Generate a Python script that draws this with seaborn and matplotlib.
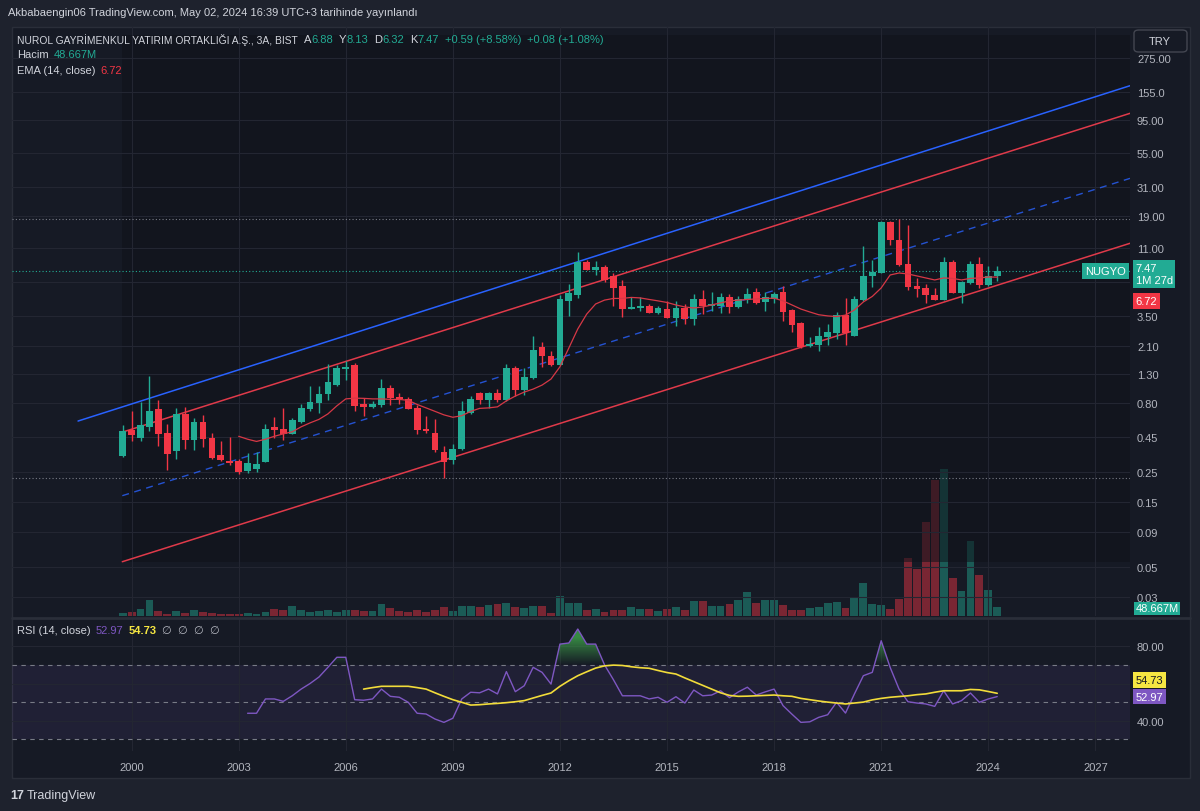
import numpy as np
import pandas as pd
import matplotlib
matplotlib.use("Agg")
import matplotlib.pyplot as plt
import seaborn as sns
from matplotlib.patches import Rectangle, FancyBboxPatch, PathPatch
from matplotlib.lines import Line2D
from matplotlib.path import Path

# ---- data: NUGYO quarterly (3A) candles, 1999 Q4 .. 2024 Q2 ----
quarters = pd.period_range("1999Q4", "2024Q2", freq="Q")

opens = [0.33, 0.51, 0.45, 0.54, 0.72, 0.48, 0.36, 0.66, 0.43, 0.58,
         0.44, 0.33, 0.30, 0.30, 0.255, 0.265, 0.30, 0.53, 0.52, 0.48,
         0.59, 0.725, 0.81, 0.94, 1.10, 1.44, 1.51, 0.79, 0.76, 0.78,
         1.03, 0.88, 0.86, 0.735, 0.515, 0.48, 0.35, 0.31, 0.37, 0.685,
         0.94, 0.85, 0.94, 0.85, 1.45, 1.00, 1.24, 2.06, 1.78, 1.53,
         4.56, 5.06, 8.63, 7.72, 7.94, 6.89, 5.82, 3.97, 4.03, 4.11,
         3.73, 3.92, 3.43, 3.97, 3.35, 4.65, 4.20, 4.20, 4.78, 4.11,
         4.60, 5.20, 4.44, 4.71, 5.20, 3.84, 3.10, 2.12, 2.14, 2.48,
         2.64, 3.54, 2.53, 4.65, 6.89, 7.27, 17.1, 12.65, 8.39, 5.76,
         5.57, 4.98, 4.65, 8.72, 5.20, 6.19, 8.39, 5.99, 6.88]
highs = [0.55, 0.70, 0.82, 1.26, 0.84, 0.56, 0.73, 0.75, 0.62, 0.65,
         0.48, 0.42, 0.45, 0.31, 0.345, 0.35, 0.56, 0.63, 0.73, 0.62,
         0.79, 1.07, 1.06, 1.55, 1.51, 1.64, 1.58, 0.87, 0.83, 1.21,
         1.08, 0.95, 0.89, 0.77, 0.64, 0.61, 0.39, 0.40, 0.83, 0.895,
         0.97, 0.97, 1.01, 1.55, 1.50, 1.45, 2.48, 2.26, 1.92, 4.98,
         5.99, 10.2, 9.03, 8.87, 8.25, 7.21, 6.41, 4.78, 4.78, 4.27,
         4.15, 4.52, 4.52, 4.27, 5.06, 5.44, 5.25, 5.15, 5.06, 4.92,
         5.57, 5.57, 5.20, 5.25, 5.82, 3.94, 3.15, 2.45, 2.88, 3.04,
         3.73, 4.71, 4.87, 11.3, 9.03, 17.4, 17.4, 17.9, 16.2, 6.60,
         5.99, 5.57, 9.40, 9.03, 6.33, 8.87, 9.40, 8.18, 8.13]
lows = [0.32, 0.42, 0.42, 0.50, 0.39, 0.26, 0.31, 0.37, 0.36, 0.38,
        0.31, 0.30, 0.28, 0.24, 0.247, 0.25, 0.295, 0.44, 0.43, 0.47,
        0.57, 0.70, 0.68, 0.84, 1.07, 1.19, 0.70, 0.64, 0.73, 0.75,
        0.77, 0.79, 0.725, 0.475, 0.48, 0.35, 0.226, 0.285, 0.36, 0.665,
        0.79, 0.73, 0.81, 0.83, 0.90, 0.915, 1.20, 1.47, 1.50, 1.51,
        3.46, 4.71, 7.63, 6.97, 6.19, 4.15, 3.43, 3.92, 3.81, 3.67,
        3.58, 3.35, 2.96, 3.04, 2.99, 3.60, 3.81, 3.67, 3.67, 3.97,
        4.35, 4.27, 3.81, 4.35, 3.22, 2.66, 2.02, 2.06, 1.94, 2.12,
        2.37, 2.12, 2.50, 4.52, 5.66, 7.21, 11.6, 8.07, 5.44, 4.81,
        4.35, 4.60, 4.60, 5.15, 4.35, 5.99, 5.57, 5.76, 6.32]
closes = [0.50, 0.47, 0.55, 0.70, 0.48, 0.34, 0.67, 0.43, 0.58, 0.44,
          0.32, 0.31, 0.295, 0.25, 0.29, 0.285, 0.52, 0.51, 0.48, 0.60,
          0.73, 0.82, 0.93, 1.14, 1.45, 1.47, 0.77, 0.76, 0.79, 1.03,
          0.88, 0.86, 0.735, 0.51, 0.50, 0.365, 0.30, 0.37, 0.70, 0.86,
          0.85, 0.94, 0.845, 1.45, 1.00, 1.24, 1.97, 1.79, 1.53, 4.65,
          5.13, 8.63, 7.72, 7.99, 6.52, 5.66, 3.96, 4.07, 4.15, 3.73,
          3.97, 3.43, 3.97, 3.35, 4.65, 4.15, 4.27, 4.78, 4.11, 4.65,
          5.06, 4.42, 4.78, 5.06, 3.75, 3.04, 2.08, 2.18, 2.48, 2.68,
          3.54, 2.62, 4.65, 6.89, 7.34, 17.1, 12.65, 8.39, 5.76, 5.51,
          4.98, 4.65, 8.72, 5.20, 6.19, 8.39, 5.99, 6.89, 7.47]
# volume, millions of shares
volumes = [18, 22, 36, 87, 25, 11, 25, 16, 31, 20,
           16, 13, 11, 11, 14, 9, 20, 36, 32, 52,
           31, 20, 27, 31, 22, 31, 31, 27, 27, 63,
           41, 27, 23, 31, 20, 31, 47, 25, 52, 52,
           49, 58, 65, 68, 47, 41, 52, 52, 16, 106,
           72, 68, 31, 36, 20, 31, 31, 47, 36, 36,
           25, 36, 47, 31, 81, 83, 56, 52, 63, 87,
           128, 68, 85, 87, 58, 31, 31, 41, 47, 72,
           76, 41, 97, 178, 67, 58, 36, 94, 313, 252,
           508, 736, 796, 205, 133, 403, 220, 139, 48.667]
# EMA(14, close), from the 14th candle on
ema14 = [0.456, 0.434, 0.418, 0.434, 0.456, 0.475, 0.492, 0.535, 0.572, 0.607,
         0.666, 0.763, 0.858, 0.869, 0.866, 0.858, 0.858, 0.851, 0.851, 0.837,
         0.781, 0.737, 0.695, 0.655, 0.629, 0.646, 0.695, 0.731, 0.737, 0.750,
         0.830, 0.900, 0.963, 1.013, 1.084, 1.20, 1.477, 2.03, 2.80, 3.60,
         4.27, 4.56, 4.69, 4.69, 4.77, 4.73, 4.61, 4.50, 4.38, 4.20,
         4.06, 3.99, 4.06, 4.20, 4.35, 4.50, 4.56, 4.61, 4.65, 4.69,
         4.71, 4.50, 4.20, 3.92, 3.73, 3.56, 3.49, 3.45, 3.54, 3.86,
         4.42, 4.85, 5.60, 6.97, 7.21, 7.09, 6.86, 6.63, 6.41, 6.63,
         6.58, 6.41, 6.58, 6.63, 6.74, 6.72]
# RSI(14, close), from the 15th candle on
rsi14 = [44.0, 44.0, 51.7, 51.7, 50.4, 53.4, 57.0, 60.0, 63.5, 68.7,
         74.1, 74.1, 51.3, 51.0, 51.7, 57.0, 53.1, 52.6, 49.9, 44.0,
         43.6, 40.9, 39.1, 41.3, 51.7, 55.3, 55.0, 57.0, 54.4, 66.4,
         55.6, 58.8, 68.7, 66.0, 59.7, 81.2, 81.8, 89.3, 81.2, 81.2,
         70.0, 62.0, 53.4, 53.4, 53.4, 51.7, 52.6, 49.9, 52.9, 49.5,
         56.5, 53.4, 53.8, 56.1, 52.4, 55.5, 58.0, 53.8, 55.5, 57.0,
         48.1, 43.5, 39.1, 39.4, 41.8, 43.2, 49.9, 44.1, 54.4, 64.2,
         66.0, 83.0, 68.7, 57.0, 50.2, 49.5, 49.0, 47.7, 56.1, 49.0,
         50.8, 54.9, 49.9, 51.7, 52.97]
# RSI-based moving average (yellow), from the 28th candle on
rsi_ma = [57.0, 57.8, 58.5, 58.5, 58.5, 58.5, 57.8, 57.0, 55.0, 53.1,
          51.3, 49.9, 48.4, 48.6, 49.0, 49.3, 49.7, 50.2, 50.8, 52.2,
          53.6, 54.9, 58.5, 61.5, 64.2, 66.3, 68.3, 69.5, 69.9, 69.7,
          69.0, 68.5, 68.2, 67.0, 65.9, 65.1, 63.0, 61.0, 59.0, 57.0,
          55.0, 53.6, 53.1, 53.2, 53.4, 53.6, 53.8, 53.4, 53.1, 52.0,
          51.3, 50.6, 50.0, 49.5, 49.0, 49.5, 50.0, 51.2, 52.0, 52.6,
          53.0, 53.4, 54.0, 54.4, 55.3, 56.1, 56.1, 56.1, 56.8, 56.6,
          55.7, 54.73]

# drawn channel (regression trend) and the upper blue trend line: two anchors each
channel_dates = [1999.74, 2027.97]
channel_lower = [0.0547, 11.91]
channel_mid = [0.167, 35.7]
channel_upper = [0.489, 107.2]
blue_dates = [1998.50, 2027.97]
blue_line = [0.590, 171.0]

year_ticks = [2000, 2003, 2006, 2009, 2012, 2015, 2018, 2021, 2024, 2027]
price_ticks = [0.03, 0.05, 0.09, 0.15, 0.25, 0.45, 0.8, 1.3, 2.1, 3.5, 6.2,
               11, 19, 31, 55, 95, 155, 275]
price_labels = ["0.03", "0.05", "0.09", "0.15", "0.25", "0.45", "0.80", "1.30",
                "2.10", "3.50", "", "11.00", "19.00", "31.00", "55.00", "95.00",
                "155.0", "275.00"]

# ---- styling ----
UP = "#22ab94"
DOWN = "#f23645"
BG = "#161a25"
FRAME = "#1e222d"
GRID = "#232632"
TXT = "#d1d4dc"
AXT = "#b2b5be"
W, H = 1200, 812

sns.set_theme(style="dark", rc={
    "figure.facecolor": FRAME,
    "axes.facecolor": BG,
    "axes.edgecolor": BG,
    "grid.color": GRID,
    "text.color": TXT,
    "xtick.color": AXT,
    "ytick.color": AXT,
})
plt.rcParams["font.family"] = ["Liberation Sans", "DejaVu Sans"]

df = pd.DataFrame({
    "date": quarters.year + (quarters.quarter - 1) / 4,
    "open": opens, "high": highs, "low": lows, "close": closes, "volume": volumes,
})
df["up"] = df["close"] >= df["open"]
df["color"] = np.where(df["up"], UP, DOWN)
df["ema"] = [np.nan] * (len(df) - len(ema14)) + ema14
df["rsi"] = [np.nan] * (len(df) - len(rsi14)) + rsi14
df["rsi_ma"] = [np.nan] * (len(df) - len(rsi_ma)) + rsi_ma

fig = plt.figure(figsize=(W / 100, H / 100), dpi=100)


def fx(x):
    return x / W


def fy(y):
    return 1 - y / H


# chart body
fig.patches.append(Rectangle((fx(12), fy(779)), fx(1190) - fx(12), fy(28) - fy(779),
                             transform=fig.transFigure, fc=BG, ec="#2a2e39",
                             lw=1, zorder=-10))

ax = fig.add_axes([fx(12), fy(617), fx(1130) - fx(12), fy(28) - fy(617)])
vax = ax.twinx()
rax = fig.add_axes([fx(12), fy(752), fx(1130) - fx(12), fy(620) - fy(752)], sharex=ax)
vax.set_zorder(0)
ax.set_zorder(1)
rax.set_zorder(1)
ax.patch.set_visible(False)
rax.patch.set_visible(False)
vax.patch.set_visible(False)

xlim = (1996.65, 2027.97)

# ---- volume ----
vax.bar(df["date"], df["volume"], width=0.22, color=df["color"], alpha=0.45,
        linewidth=0)
vax.set_ylim(0, max(volumes) * 589 / 147.4)
vax.set_yticks([])
for s in vax.spines.values():
    s.set_visible(False)

# ---- price pane ----
ax.set_yscale("log")
ax.set_xlim(*xlim)
ax.set_ylim(0.02185, 461.4)

# shaded background of the drawn channel
ax.add_patch(Rectangle((channel_dates[0], channel_lower[0]),
                       xlim[1] - channel_dates[0], 400,
                       fc="#0f121a", ec="none", alpha=0.55, zorder=0))

ax.plot(blue_dates, blue_line, color="#2962ff", lw=1.1, zorder=2)
ax.plot(channel_dates, channel_upper, color="#e03a4a", lw=1.1, zorder=2)
ax.plot(channel_dates, channel_lower, color="#e03a4a", lw=1.1, zorder=2)
ax.plot(channel_dates, channel_mid, color="#2962ff", lw=1.0, ls=(0, (5, 4)),
        alpha=0.8, zorder=2)

# high / low / last-price dotted lines
ax.axhline(df["high"].max(), color="#787b86", lw=0.8, ls=(0, (1, 2)), zorder=1)
ax.axhline(df["low"].min(), color="#787b86", lw=0.8, ls=(0, (1, 2)), zorder=1)
ax.axhline(closes[-1], color=UP, lw=0.8, ls=(0, (1, 2)), zorder=1)

# candles
ax.vlines(df["date"], df["low"], df["high"], colors=df["color"], lw=1, zorder=3)
body_lo = df[["open", "close"]].min(axis=1)
body_hi = df[["open", "close"]].max(axis=1)
ax.bar(df["date"], body_hi - body_lo, bottom=body_lo, width=0.19,
       color=df["color"], linewidth=0, zorder=4)
# dojis still get a visible body
ax.bar(df["date"], body_lo * 0.02, bottom=body_lo * 0.99, width=0.19,
       color=df["color"], linewidth=0, zorder=4)

sns.lineplot(data=df, x="date", y="ema", ax=ax, color="#d63846", lw=0.9, zorder=5)

ax.set_xticks(year_ticks)
ax.yaxis.tick_right()
ax.set_yticks(price_ticks)
ax.set_yticklabels(price_labels)
ax.yaxis.set_minor_locator(matplotlib.ticker.NullLocator())
ax.tick_params(axis="y", length=0, pad=5, labelsize=8, labelcolor=AXT)
ax.tick_params(axis="x", length=0, labelbottom=False)
ax.grid(True, color=GRID, lw=0.8)
ax.set_xlabel("")
ax.set_ylabel("")
for s in ax.spines.values():
    s.set_visible(False)

# price scale markers
tr = ax.get_yaxis_transform()
ax.annotate("7.47\n1M 27d", xy=(1, closes[-1]), xycoords=tr, xytext=(4, 5.5),
            textcoords="offset points", ha="left", va="top", fontsize=8,
            color="white", linespacing=1.25, annotation_clip=False, zorder=10,
            bbox=dict(boxstyle="square,pad=0.25", fc=UP, ec="none"))
ax.annotate("NUGYO", xy=(1, closes[-1]), xycoords=tr, xytext=(-3, 0),
            textcoords="offset points", ha="right", va="center", fontsize=8,
            color="white", annotation_clip=False, zorder=10,
            bbox=dict(boxstyle="square,pad=0.25", fc=UP, ec="none"))
ax.annotate(f"{ema14[-1]:.2f}", xy=(1, ema14[-1]), xycoords=tr, xytext=(4, -17),
            textcoords="offset points", ha="left", va="center", fontsize=8,
            color="white", annotation_clip=False, zorder=10,
            bbox=dict(boxstyle="square,pad=0.25", fc=DOWN, ec="none"))
vax.annotate("48.667M", xy=(1, volumes[-1]), xycoords=vax.get_yaxis_transform(),
             xytext=(4, -1), textcoords="offset points", ha="left", va="center",
             fontsize=8, color="white", annotation_clip=False, zorder=10,
             bbox=dict(boxstyle="square,pad=0.15", fc=UP, ec="none"))

# ---- RSI pane ----
rax.set_xlim(*xlim)
rax.set_ylim(23.7, 94.7)
rax.fill_between(xlim, 30, 70, color="#7e57c2", alpha=0.1, lw=0, zorder=0)
for lvl in (70, 50, 30):
    rax.axhline(lvl, color="#787b86", lw=0.8, ls=(0, (4, 4)), zorder=1)

# overbought zone: green gradient fading towards the 70 line
rsi_arr = df["rsi"].to_numpy()
ob = rax.fill_between(df["date"], rsi_arr, 70, where=rsi_arr > 70, interpolate=True,
                      color="none", lw=0)
grad = np.zeros((100, 2, 4))
grad[..., 0], grad[..., 1], grad[..., 2] = 0.24, 0.62, 0.29
grad[..., 3] = np.clip(np.linspace(0, 1.25, 100), 0, 0.85)[:, None]
im = rax.imshow(grad, extent=[xlim[0], xlim[1], 70, 92], origin="lower",
                aspect="auto", zorder=2, interpolation="bilinear")
clip = PathPatch(Path.make_compound_path(*ob.get_paths()), transform=rax.transData,
                 fc="none", ec="none")
rax.add_patch(clip)
im.set_clip_path(clip)
rax.set_xlim(*xlim)
rax.set_ylim(23.7, 94.7)

sns.lineplot(data=df, x="date", y="rsi", ax=rax, color="#7e57c2", lw=1, zorder=3)
sns.lineplot(data=df, x="date", y="rsi_ma", ax=rax, color="#f2dc3a", lw=1.2, zorder=4)
rax.set_xticks(year_ticks)
rax.set_xticklabels([str(y) for y in year_ticks])
rax.yaxis.tick_right()
rax.set_yticks([40, 60, 80])
rax.set_yticklabels(["40.00", "", "80.00"])
rax.tick_params(axis="y", length=0, pad=5, labelsize=8, labelcolor=AXT)
rax.tick_params(axis="x", length=0, pad=8, labelsize=8, labelcolor=AXT)
rax.grid(True, color=GRID, lw=0.8)
rax.set_xlabel("")
rax.set_ylabel("")
for s in rax.spines.values():
    s.set_visible(False)

rtr = rax.get_yaxis_transform()
rax.annotate(f"{rsi_ma[-1]:.2f}", xy=(1, rsi_ma[-1]), xycoords=rtr, xytext=(4, 9.5),
             textcoords="offset points", ha="left", va="center", fontsize=8,
             color="#131722", annotation_clip=False, zorder=10,
             bbox=dict(boxstyle="square,pad=0.25", fc="#f5e642", ec="none"))
rax.annotate(f"{rsi14[-1]:.2f}", xy=(1, rsi14[-1]), xycoords=rtr, xytext=(4, 0),
             textcoords="offset points", ha="left", va="center", fontsize=8,
             color="white", annotation_clip=False, zorder=10,
             bbox=dict(boxstyle="square,pad=0.25", fc="#7e57c2", ec="none"))

# separator between panes
fig.add_artist(Line2D([fx(12), fx(1190)], [fy(618.5), fy(618.5)], color="#2a2e39", lw=2))

# ---- legends / header text ----
renderer = fig.canvas.get_renderer()


def chain(x, y, pieces):
    # pieces: (text, colour, gap before in px, size, weight)
    for txt, col, gap, size, weight in pieces:
        x += gap
        t = fig.text(fx(x), fy(y), txt, color=col, fontsize=size, weight=weight,
                     va="center", ha="left")
        x = t.get_window_extent(renderer).x1


fig.text(fx(8), fy(13), "Akbabaengin06 TradingView.com, May 02, 2024 16:39 UTC+3 "
         "tarihinde yayınlandı", color=TXT, fontsize=8, va="center")
chain(17, 40, [("NUROL GAYRİMENKUL YATIRIM ORTAKLIĞI A.Ş., 3A, BIST", TXT, 0, 7.4, "normal"),
               ("A", TXT, 6, 8, "normal"), ("6.88", UP, 0, 8, "normal"),
               ("Y", TXT, 6, 8, "normal"), ("8.13", UP, 0, 8, "normal"),
               ("D", TXT, 6, 8, "normal"), ("6.32", UP, 0, 8, "normal"),
               ("K", TXT, 6, 8, "normal"), ("7.47", UP, 0, 8, "normal"),
               ("+0.59 (+8.58%)", UP, 6, 8, "normal"),
               ("+0.08 (+1.08%)", UP, 6, 8, "normal")])
chain(17, 55, [("Hacim", TXT, 0, 8, "normal"), ("48.667M", UP, 5, 8, "normal")])
chain(17, 71, [("EMA (14, close)", TXT, 0, 8, "normal"), ("6.72", DOWN, 5, 8, "normal")])
chain(17, 631, [("RSI (14, close)", TXT, 0, 8, "normal"),
                ("52.97", "#7e57c2", 5, 8, "normal"),
                ("54.73", "#f5e642", 5, 8, "bold"),
                ("∅  ∅  ∅  ∅", AXT, 6, 8, "normal")])

# currency button
fig.patches.append(FancyBboxPatch((fx(1134), fy(53)), fx(1187) - fx(1134), fy(31) - fy(53),
                                  boxstyle="round,pad=0,rounding_size=0.004",
                                  transform=fig.transFigure, fc=BG, ec="#434651",
                                  lw=1, zorder=10))
fig.text(fx(1160), fy(42), "TRY", color=TXT, fontsize=8, ha="center", va="center",
         zorder=11)

# footer logo
fig.text(fx(10), fy(796), "17", color=TXT, fontsize=9, weight="bold", va="center")
fig.text(fx(27), fy(796), "TradingView", color=TXT, fontsize=9, va="center")

fig.savefig("out.png", dpi=100, facecolor=FRAME)
